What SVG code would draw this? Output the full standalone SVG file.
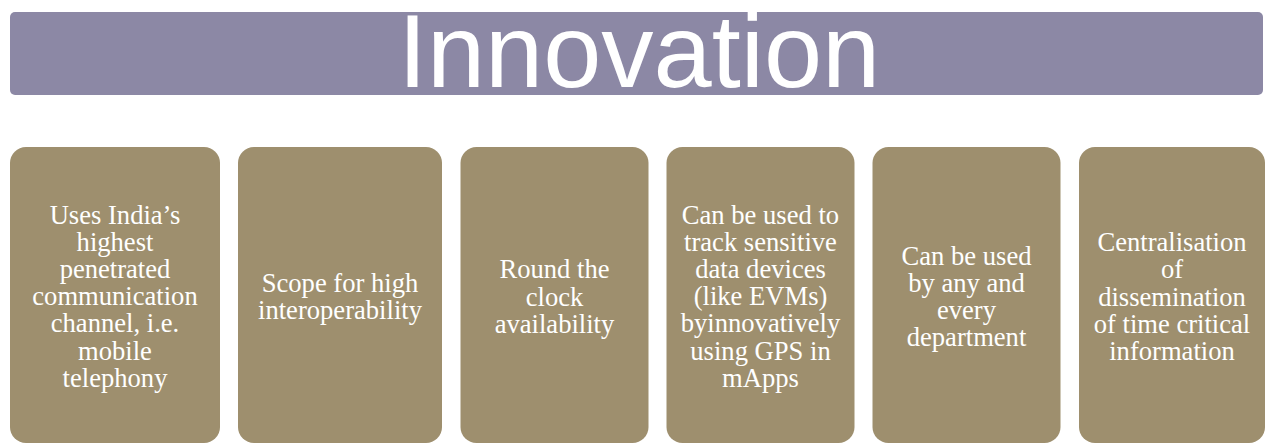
<svg xmlns="http://www.w3.org/2000/svg" width="1265" height="444" viewBox="0 0 1265 444">
<style>
.bar{fill:#8c88a5}
.box{fill:#9e8f6e}
.title{font-size:104.5px;fill:#ffffff;text-anchor:middle}
.t{font-size:26.6px;fill:#ffffff;text-anchor:middle}
</style>
<rect width="1265" height="444" fill="#ffffff"/>
<g id="title">
<rect class="bar" x="10" y="12" width="1253" height="83" rx="5"/>
<text class="title" font-family="Liberation Sans, Arial, sans-serif" x="639" y="87">Innovation</text>
</g>
<g id="connectors"></g>
<g id="node1">
<rect class="box" x="10" y="147" width="210" height="296" rx="16"/>
<text class="t" font-family="Liberation Serif" x="115"><tspan x="115" y="224">Uses India’s</tspan><tspan x="115" y="251.1">highest</tspan><tspan x="115" y="278.2">penetrated</tspan><tspan x="115" y="305.3">communication</tspan><tspan x="115" y="332.4">channel, i.e.</tspan><tspan x="115" y="359.5">mobile</tspan><tspan x="115" y="386.6">telephony</tspan></text>
</g>
<g id="node2">
<rect class="box" x="238" y="147" width="204" height="296" rx="16"/>
<text class="t" font-family="Liberation Serif" x="340"><tspan x="340" y="292.3">Scope for high</tspan><tspan x="340" y="319.4">interoperability</tspan></text>
</g>
<g id="node3">
<rect class="box" x="460.5" y="147" width="188" height="296" rx="16"/>
<text class="t" font-family="Liberation Serif" x="554.5"><tspan x="554.5" y="278.4">Round the</tspan><tspan x="554.5" y="305.5">clock</tspan><tspan x="554.5" y="332.6">availability</tspan></text>
</g>
<g id="node4">
<rect class="box" x="666.5" y="147" width="188" height="296" rx="16"/>
<text class="t" font-family="Liberation Serif" x="760.5"><tspan x="760.5" y="224">Can be used to</tspan><tspan x="760.5" y="251.1">track sensitive</tspan><tspan x="760.5" y="278.2">data devices</tspan><tspan x="760.5" y="305.3">(like EVMs)</tspan><tspan x="760.5" y="332.4">byinnovatively</tspan><tspan x="760.5" y="359.5">using GPS in</tspan><tspan x="760.5" y="386.6">mApps</tspan></text>
</g>
<g id="node5">
<rect class="box" x="872.5" y="147" width="188" height="296" rx="16"/>
<text class="t" font-family="Liberation Serif" x="966.5"><tspan x="966.5" y="264.9">Can be used</tspan><tspan x="966.5" y="292">by any and</tspan><tspan x="966.5" y="319.1">every</tspan><tspan x="966.5" y="346.2">department</tspan></text>
</g>
<g id="node6">
<rect class="box" x="1079" y="147" width="186" height="296" rx="16"/>
<text class="t" font-family="Liberation Serif" x="1172"><tspan x="1172" y="251.3">Centralisation</tspan><tspan x="1172" y="278.4">of</tspan><tspan x="1172" y="305.5">dissemination</tspan><tspan x="1172" y="332.6">of time critical</tspan><tspan x="1172" y="359.7">information</tspan></text>
</g>
</svg>
